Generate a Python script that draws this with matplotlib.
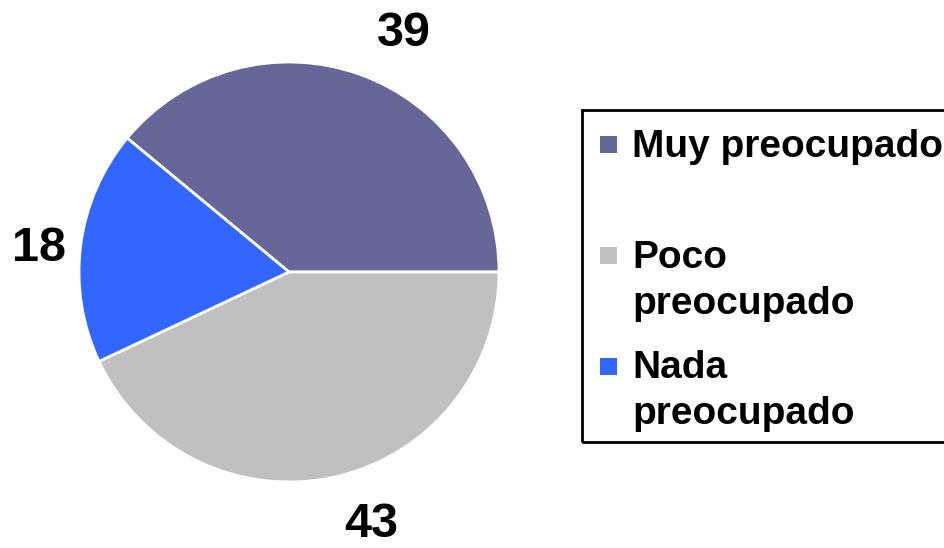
import numpy as np
import matplotlib
matplotlib.use("Agg")
import matplotlib.pyplot as plt
from matplotlib.patches import Rectangle
from matplotlib.transforms import ScaledTranslation

categories = ["Muy preocupado", "Poco preocupado", "Nada preocupado"]
legend_labels = ["Muy preocupado", "Poco\npreocupado", "Nada\npreocupado"]
values = [39, 43, 18]
colors = ["#666699", "#C0C0C0", "#3366FF"]

W, H = 945, 548
fig = plt.figure(figsize=(W / 100, H / 100), dpi=100)
FONT = "Liberation Sans"

# pie axes: center (289, 272) px, radius 210 px
cx, cy, r = 289, 272, 210
ax = fig.add_axes([(cx - r) / W, (H - cy - r) / H, 2 * r / W, 2 * r / H])
start = 360 * values[0] / sum(values)
wedges, texts = ax.pie(values, colors=colors, startangle=start, counterclock=False,
                       labels=[str(v) for v in values], labeldistance=1.2,
                       wedgeprops=dict(edgecolor="white", linewidth=2),
                       textprops=dict(fontsize=35, fontweight="bold", family=FONT))
ax.set_xlim(-1, 1)
ax.set_ylim(-1, 1)
ax.set_aspect("equal")
ax.axis("off")

label_dist = [1.23, 1.21, 1.07]
shift = ScaledTranslation(0, -5 / 100, fig.dpi_scale_trans)
for w, t, d in zip(wedges, texts, label_dist):
    mid = np.deg2rad((w.theta1 + w.theta2) / 2)
    t.set_position((d * np.cos(mid), d * np.sin(mid)))
    t.set_transform(ax.transData + shift)

# legend drawn manually in pixel coordinates
def fx(x):
    return x / W

def fy(y):
    return 1 - y / H

box = Rectangle((fx(582), fy(442)), fx(700), fy(110) - fy(442),
                transform=fig.transFigure, fill=False, edgecolor="black",
                linewidth=2, clip_on=False)
fig.patches.append(box)

marker_tops = [136, 247, 358]
first_baselines = [157, 268, 378]
line_step = 46
for lab, col, mt, bl in zip(legend_labels, colors, marker_tops, first_baselines):
    sq = Rectangle((fx(600), fy(mt + 17)), fx(17), fy(mt) - fy(mt + 17),
                   transform=fig.transFigure, facecolor=col, edgecolor="none")
    fig.patches.append(sq)
    for i, line in enumerate(lab.split("\n")):
        fig.text(fx(632), fy(bl + i * line_step), line, fontsize=28,
                 fontweight="bold", family=FONT, ha="left", va="baseline")

fig.savefig("out.png", dpi=100)
